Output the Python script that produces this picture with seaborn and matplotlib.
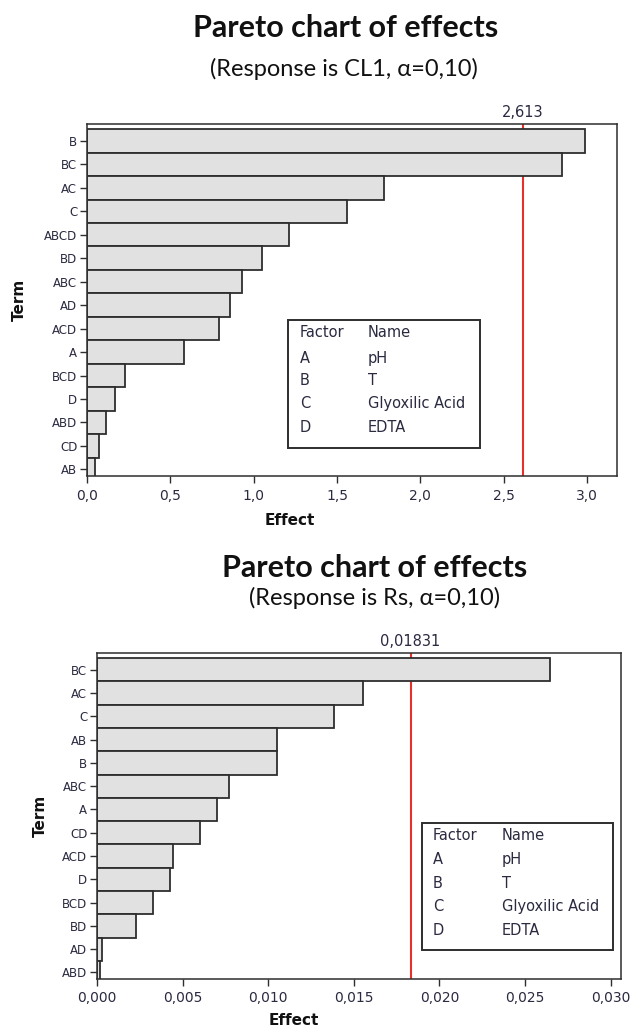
import matplotlib
matplotlib.use("Agg")
import matplotlib.pyplot as plt
import matplotlib.transforms as mtransforms
from matplotlib.patches import Rectangle
import seaborn as sns
import pandas as pd

# data
terms_cl1 = ['B', 'BC', 'AC', 'C', 'ABCD', 'BD', 'ABC', 'AD', 'ACD', 'A',
             'BCD', 'D', 'ABD', 'CD', 'AB']
effects_cl1 = [2.99, 2.85, 1.78, 1.56, 1.21, 1.05, 0.93, 0.86, 0.79, 0.58,
               0.23, 0.17, 0.115, 0.072, 0.05]
crit_cl1 = 2.613
crit_cl1_label = "2,613"
xticks_cl1 = [0.0, 0.5, 1.0, 1.5, 2.0, 2.5, 3.0]
xticklabels_cl1 = ["0,0", "0,5", "1,0", "1,5", "2,0", "2,5", "3,0"]

terms_rs = ['BC', 'AC', 'C', 'AB', 'B', 'ABC', 'A', 'CD', 'ACD', 'D',
            'BCD', 'BD', 'AD', 'ABD']
effects_rs = [0.02643, 0.01556, 0.01386, 0.01052, 0.01052, 0.00773, 0.00699,
              0.00599, 0.00442, 0.00429, 0.00325, 0.00228, 0.0003, 0.00018]
crit_rs = 0.01831
crit_rs_label = "0,01831"
xticks_rs = [0.0, 0.005, 0.010, 0.015, 0.020, 0.025, 0.030]
xticklabels_rs = ["0,000", "0,005", "0,010", "0,015", "0,020", "0,025", "0,030"]

factors = ['A', 'B', 'C', 'D']
factor_names = ['pH', 'T', 'Glyoxilic Acid', 'EDTA']

sns.set_theme(style="white")
plt.rcParams['font.family'] = ['DejaVu Sans']

W, H = 633, 1030
fig = plt.figure(figsize=(W / 100, H / 100), dpi=100)
fig.patch.set_facecolor("white")

BAR = "#e1e1e1"
EDGE = "#2e2e2e"
TXT = "#2a2a40"
RED = "#e8302a"


def px(x, y):
    return x / W, 1 - y / H


def axes_px(left, top, right, bottom):
    return fig.add_axes([left / W, 1 - bottom / H, (right - left) / W, (bottom - top) / H])


def pareto(ax, terms, effects, crit, crit_label, xticks, xticklabels, xmax):
    df = pd.DataFrame({"Term": terms, "Effect": effects})
    sns.barplot(data=df, x="Effect", y="Term", orient="h", ax=ax,
                color=BAR, edgecolor=EDGE, linewidth=1.3, width=1.0,
                saturation=1)
    n = len(terms)
    ax.set_ylim(n - 0.72, -0.72)
    ax.set_xlim(0, xmax)
    ax.axvline(crit, color=RED, lw=1.5, zorder=0.5)
    trans = mtransforms.blended_transform_factory(ax.transData, ax.transAxes)
    ax.annotate(crit_label, (crit, 1.0), xycoords=trans, xytext=(0, 3),
                textcoords="offset points", ha="center", va="bottom",
                fontsize=10.5, color=TXT)
    ax.set_xticks(xticks)
    ax.set_xticklabels(xticklabels, fontsize=10, color=TXT)
    ax.tick_params(axis="y", labelsize=8.5, labelcolor=TXT, length=5,
                   width=1, color=EDGE, pad=2, left=True)
    ax.tick_params(axis="x", length=5, width=1, color=EDGE, pad=4, bottom=True)
    for s in ax.spines.values():
        s.set_visible(True)
        s.set_color(EDGE)
        s.set_linewidth(1.1)
    ax.set_xlabel("Effect", fontsize=11, fontweight="bold", color="#111111")
    ax.set_ylabel("Term", fontsize=11, fontweight="bold", color="#111111")


def factor_box(left, top, right, bottom, col1, col2, rows):
    x0, y0 = px(left, bottom)
    x1, y1 = px(right, top)
    fig.patches.append(Rectangle((x0, y0), x1 - x0, y1 - y0, transform=fig.transFigure,
                                 fill=False, edgecolor=EDGE, linewidth=1.4))
    lines = [("Factor", "Name")] + list(zip(factors, factor_names))
    for (a, b), yb in zip(lines, rows):
        fig.text(*px(col1, yb), a, fontsize=10.5, color=TXT, va="baseline")
        fig.text(*px(col2, yb), b, fontsize=10.5, color=TXT, va="baseline")


# top chart
fig.text(*px(346, 37), "Pareto chart of effects", family="Lato", fontweight="bold",
         fontsize=22, ha="center", va="baseline", color="#111111")
fig.text(*px(344, 76), "(Response is CL1, \u03b1=0,10)", family="Lato",
         fontsize=17, ha="center", va="baseline", color="#111111")
ax1 = axes_px(87, 124, 617, 476)
pareto(ax1, terms_cl1, effects_cl1, crit_cl1, crit_cl1_label,
       xticks_cl1, xticklabels_cl1, 3.18)
ax1.xaxis.set_label_coords((290 - 87) / 530, -0.105)
ax1.yaxis.set_label_coords(-0.113, 0.5)
factor_box(288, 320, 480, 448, 300, 368, [337, 363, 385, 408, 432])

# bottom chart
fig.text(*px(375, 577), "Pareto chart of effects", family="Lato", fontweight="bold",
         fontsize=22, ha="center", va="baseline", color="#111111")
fig.text(*px(375, 605), "(Response is Rs, \u03b1=0,10)", family="Lato",
         fontsize=17, ha="center", va="baseline", color="#111111")
ax2 = axes_px(97, 653, 621, 979)
pareto(ax2, terms_rs, effects_rs, crit_rs, crit_rs_label,
       xticks_rs, xticklabels_rs, 0.0306)
ax2.xaxis.set_label_coords((294 - 97) / 524, -0.105)
ax2.yaxis.set_label_coords(-0.093, 0.5)
factor_box(422, 823, 613, 950, 433, 502, [840, 864, 888, 911, 935])

fig.savefig("out.png", dpi=100)
